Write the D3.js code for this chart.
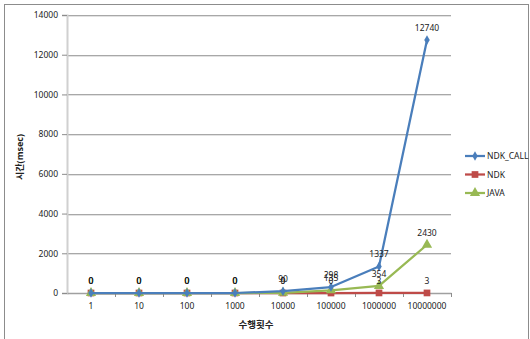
<!DOCTYPE html>
<html>
<head>
<meta charset="utf-8">
<script src="https://cdn.jsdelivr.net/npm/d3@7"></script>
<style>
  html, body { margin: 0; padding: 0; background: #fff; }
  svg { display: block; }
  text { font-family: "Noto Sans", "Noto Sans CJK KR", sans-serif; fill: #222; }
</style>
</head>
<body>
<svg id="chart" width="530" height="339"></svg>
<script>
// Run counts on the x axis
const categories = ["1", "10", "100", "1000", "10000", "100000", "1000000", "10000000"];
// Elapsed time in msec for each implementation
const ndkCall = [0, 0, 0, 0, 90, 298, 1337, 12740];
const ndk     = [0, 0, 0, 0, 0, 0, 3, 3];
const java    = [0, 0, 0, 0, 9, 135, 354, 2430];
const yTicks  = [0, 2000, 4000, 6000, 8000, 10000, 12000, 14000];

const seriesList = [
  { name: "NDK_CALL", values: ndkCall, color: "#4a7ebb", symbol: d3.symbolDiamond, size: 26 },
  { name: "NDK",      values: ndk,     color: "#be4b48", symbol: d3.symbolSquare,  size: 45 },
  { name: "JAVA",     values: java,    color: "#98b954", symbol: d3.symbolTriangle, size: 45 }
];

const svg = d3.select("#chart");
const plot = { left: 67, right: 451, top: 15, bottom: 293 };

const x = d3.scaleBand().domain(categories).range([plot.left, plot.right]);
const y = d3.scaleLinear().domain([0, 14000]).range([plot.bottom, plot.top]);

// outer chart frame
svg.append("rect")
  .attr("x", 4.5).attr("y", 4.5).attr("width", 524).attr("height", 345)
  .attr("fill", "none").attr("stroke", "#8c8c8c").attr("stroke-width", 1);

// horizontal gridlines with a soft shadow line
const grid = svg.append("g");
yTicks.filter(t => t > 0).forEach(t => {
  const yy = Math.round(y(t));
  grid.append("line").attr("x1", plot.left).attr("x2", plot.right)
    .attr("y1", yy + 1.5).attr("y2", yy + 1.5).attr("stroke", "#e2e2e2");
  grid.append("line").attr("x1", plot.left).attr("x2", plot.right)
    .attr("y1", yy + 0.5).attr("y2", yy + 0.5).attr("stroke", "#a8a8a8");
});

// y axis
const yAxis = svg.append("g")
  .attr("transform", `translate(${plot.left},0)`)
  .call(d3.axisLeft(y).tickValues(yTicks).tickSize(5).tickPadding(4).tickFormat(d3.format("d")));
yAxis.select(".domain").attr("stroke", "#d0d0d0").attr("stroke-width", 2);
yAxis.selectAll(".tick line").attr("stroke", "#8c8c8c");
yAxis.selectAll("text").attr("font-size", 8.5).attr("fill", "#222")
  .attr("font-family", "'Noto Sans', sans-serif");

// x axis: ticks sit between categories
const xAxis = svg.append("g")
  .attr("transform", `translate(0,${plot.bottom})`)
  .call(d3.axisBottom(x).tickSize(0).tickPadding(10));
xAxis.select(".domain").attr("stroke", "#a0a0a0").attr("stroke-width", 1.5);
xAxis.selectAll("text").attr("font-size", 8.5).attr("fill", "#222")
  .attr("font-family", "'Noto Sans', sans-serif");
const bounds = categories.map(c => x(c)).concat([x(categories[categories.length - 1]) + x.bandwidth()]);
xAxis.selectAll(".between").data(bounds.slice(1)).join("line")
  .attr("class", "between")
  .attr("x1", d => Math.round(d) + 0.5).attr("x2", d => Math.round(d) + 0.5)
  .attr("y1", 0).attr("y2", 4).attr("stroke", "#8c8c8c");

// axis titles
svg.append("text")
  .attr("transform", "translate(23,157) rotate(-90)")
  .attr("text-anchor", "middle")
  .attr("font-size", 9).attr("font-weight", "bold")
  .attr("font-family", "'Noto Sans CJK KR', sans-serif")
  .text("시간(msec)");
svg.append("text")
  .attr("x", 256).attr("y", 328)
  .attr("text-anchor", "middle")
  .attr("font-size", 9.5).attr("font-weight", "bold")
  .attr("font-family", "'Noto Sans CJK KR', sans-serif")
  .text("수행횟수");

const cx = (i) => x(categories[i]) + x.bandwidth() / 2;
const line = d3.line().x((d, i) => cx(i)).y(d => y(d));

// series lines and markers, drawn so NDK_CALL ends up on top
const drawOrder = [seriesList[1], seriesList[2], seriesList[0]];
drawOrder.forEach(s => {
  const g = svg.append("g");
  g.append("path").datum(s.values)
    .attr("d", line).attr("fill", "none")
    .attr("stroke", s.color).attr("stroke-width", 2.25).attr("stroke-linejoin", "round");
  g.selectAll("path.mark").data(s.values).join("path")
    .attr("class", "mark")
    .attr("transform", (d, i) => `translate(${cx(i)},${y(d)})`)
    .attr("d", d3.symbol().type(s.symbol).size(s.size))
    .attr("fill", s.color);
});

// data labels above each point
seriesList.forEach(s => {
  svg.append("g").selectAll("text").data(s.values).join("text")
    .attr("x", (d, i) => cx(i))
    .attr("y", d => y(d) - 9)
    .attr("text-anchor", "middle")
    .attr("font-size", 8.5).attr("fill", "#222")
    .text(d => d);
});

// legend
const legend = svg.append("g").attr("transform", "translate(465,156)");
seriesList.forEach((s, i) => {
  const g = legend.append("g").attr("transform", `translate(0,${i * 18.5})`);
  g.append("line").attr("x1", 0).attr("x2", 20).attr("y1", 0).attr("y2", 0)
    .attr("stroke", s.color).attr("stroke-width", 2.25);
  g.append("path").attr("transform", "translate(10,0)")
    .attr("d", d3.symbol().type(s.symbol).size(s.size)).attr("fill", s.color);
  g.append("text").attr("x", 22).attr("y", 3)
    .attr("font-size", 8.5).attr("fill", "#222").text(s.name);
});
</script>
</body>
</html>
